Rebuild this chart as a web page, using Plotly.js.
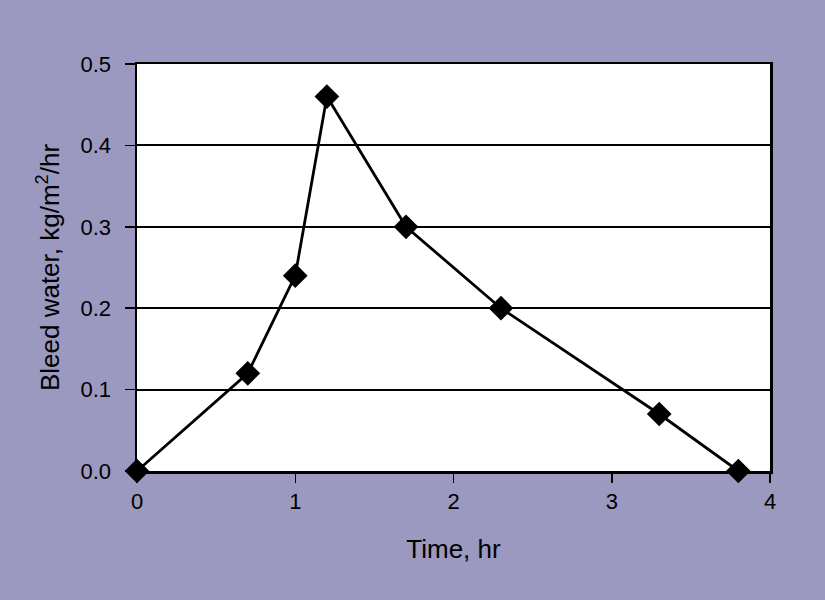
<!DOCTYPE html>
<html>
<head>
<meta charset="utf-8">
<script src="https://cdn.plot.ly/plotly-3.0.1.min.js"></script>
<style>html,body{margin:0;padding:0;background:#9b99c0;}</style>
</head>
<body>
<div id="chart" style="width:825px;height:600px;"></div>
<script>
var timeHr = [0, 0.7, 1.0, 1.2, 1.7, 2.3, 3.3, 3.8];
var bleedWater = [0.0, 0.12, 0.24, 0.46, 0.30, 0.20, 0.07, 0.0];
var xTickVals = [0, 1, 2, 3, 4];
var yTickVals = [0, 0.1, 0.2, 0.3, 0.4, 0.5];

var trace = {
  x: timeHr,
  y: bleedWater,
  type: 'scatter',
  mode: 'lines+markers',
  line: {color: '#000000', width: 2.8},
  marker: {symbol: 'diamond', size: 19, color: '#000000'},
  cliponaxis: false,
  hoverinfo: 'x+y'
};

var tickFont = {family: '"Liberation Sans", Arial, sans-serif', size: 22, color: '#000000'};

var layout = {
  width: 825,
  height: 600,
  paper_bgcolor: '#9b99c0',
  plot_bgcolor: '#ffffff',
  margin: {l: 137, r: 55, t: 64, b: 129},
  font: {family: '"Liberation Sans", Arial, sans-serif', size: 22, color: '#000000'},
  showlegend: false,
  xaxis: {
    range: [0, 4],
    tickvals: xTickVals,
    ticktext: xTickVals.map(String),
    tickfont: tickFont,
    ticks: 'outside',
    ticklen: 9,
    tickwidth: 1.5,
    tickcolor: '#000000',
    showline: true,
    linecolor: '#000000',
    linewidth: 2.5,
    mirror: true,
    showgrid: false,
    zeroline: false,
    automargin: false,
    title: {text: 'Time, hr', font: {size: 26}, standoff: 27}
  },
  yaxis: {
    range: [0, 0.5],
    tickvals: yTickVals,
    ticktext: yTickVals.map(function(v){return v.toFixed(1);}),
    tickfont: tickFont,
    ticks: 'outside',
    ticklen: 10,
    tickwidth: 1.5,
    tickcolor: '#000000',
    ticklabelstandoff: 9,
    showline: true,
    linecolor: '#000000',
    linewidth: 2.5,
    mirror: true,
    showgrid: true,
    gridcolor: '#000000',
    gridwidth: 2,
    zeroline: false,
    automargin: false,
    title: {text: 'Bleed water, kg/m<sup>2</sup>/hr', font: {size: 26}, standoff: 14}
  }
};

Plotly.newPlot('chart', [trace], layout, {displayModeBar: false, staticPlot: true});
</script>
</body>
</html>
